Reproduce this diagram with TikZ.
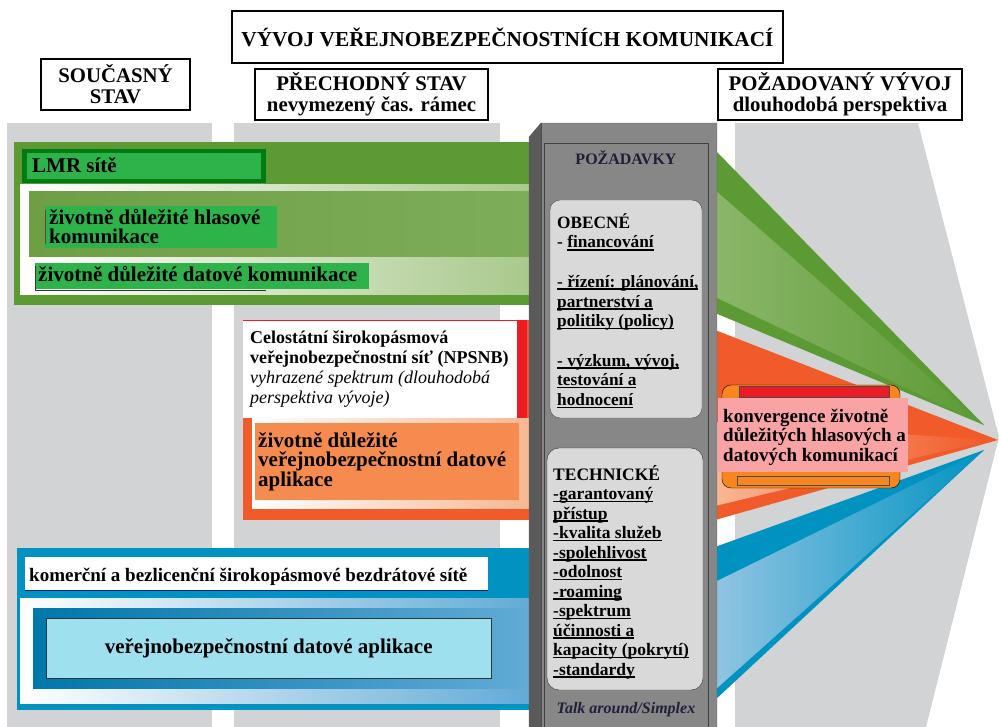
\documentclass[tikz,border=0pt]{standalone}
\usepackage{fontspec}
\setmainfont{Liberation Serif}
\usepackage{tikz}

\definecolor{bggray}{HTML}{D1D3D4}
\definecolor{lmrgreen}{HTML}{5C9A34}
\definecolor{lmrdark}{HTML}{007A12}
\definecolor{lmrlight}{HTML}{2EB34B}
\definecolor{lmrmid}{HTML}{6E9F45}
\definecolor{lmrmidr}{HTML}{7EAD5A}
\definecolor{lmrpale}{HTML}{A9C98C}
\definecolor{npsorange}{HTML}{F15A29}
\definecolor{npsred}{HTML}{ED1C24}
\definecolor{npsbox}{HTML}{F68B4F}
\definecolor{npspale}{HTML}{F8B792}
\definecolor{combblue}{HTML}{0093C2}
\definecolor{combdark}{HTML}{0077AA}
\definecolor{combpale}{HTML}{62ABD6}
\definecolor{combcyan}{HTML}{9FE0EE}
\definecolor{combline}{HTML}{1A237E}
\definecolor{pillfront}{HTML}{878787}
\definecolor{pillside}{HTML}{5A5A5A}
\definecolor{reqbox}{HTML}{D9D9D9}
\definecolor{reqtext}{HTML}{1F1F3A}
\definecolor{convpink}{HTML}{F9A3A5}
\definecolor{convorange}{HTML}{F7861F}

\newcommand{\fsz}[2]{\fontsize{#1}{#2}\selectfont\lineskiplimit=-50pt\bfseries}
\newcommand{\fstrut}{\rule{0pt}{16pt}}
\newsavebox{\ulbox}
\newcommand{\ulbar}[1]{\leavevmode\sbox{\ulbox}{#1}\rlap{\rule[-2.6pt]{\wd\ulbox}{1.5pt}}\usebox{\ulbox}}

\begin{document}
\begin{tikzpicture}[x=1pt,y=-1pt]

  \tikzstyle{lbl}=[anchor=base west,inner sep=0pt]
  \tikzstyle{txt}=[anchor=north west,inner sep=0pt,align=left]
  \tikzstyle{head}=[draw,line width=1.5pt,fill=white,align=center,inner sep=0pt,
                    minimum height=51pt,font=\fsz{20.8}{21}]

  \fill[white] (0,0) rectangle (999,727);
  \useasboundingbox (0,0) rectangle (999,727);

  % columns
  \fill[bggray] (7,123) rectangle (212,727);
  \fill[bggray] (234,123) rectangle (500,727);
  \fill[bggray] (735,123) -- (918,123) -- (999,437) -- (926,727) -- (735,727) -- cycle;

  % wedges right of the pillar
  \fill[npsorange] (715,330) -- (998,440) -- (715,520) -- cycle;
  \shade[left color=npspale,right color=npsorange] (715,422) -- (990,440) -- (715,506) -- cycle;
  \fill[lmrgreen] (715,150) -- (984,425) -- (715,313) -- cycle;
  \shade[left color=lmrpale!60!lmrgreen,right color=lmrgreen] (715,190) -- (984,425) -- (715,297) -- cycle;
  \fill[combblue] (715,547) -- (984,450) -- (715,700) -- cycle;
  \shade[left color=combpale!70!white,right color=combblue] (715,582) -- (984,450) -- (715,690) -- cycle;

  % LMR band
  \fill[lmrgreen] (14,142) rectangle (529,305);
  \fill[lmrdark] (22,149) rectangle (266,183);
  \fill[lmrlight] (27,153) rectangle (261,179);
  \shade[left color=white,right color=lmrpale] (20,185) rectangle (529,295);
  \shade[left color=lmrmid,right color=lmrmidr] (29,192) rectangle (529,257);
  \fill[lmrlight] (45,206) rectangle (277,248);
  \draw[black!70] (45,210) -- (45,244);
  \fill[lmrlight] (35,263) rectangle (369,289);
  \draw[black!80] (35,266) -- (35,290) -- (266,290);

  \node[lbl,font=\fsz{21}{20}] (lmr) at (32,173) {LMR sítě};
  \node[txt,font=\fsz{21}{19.5}] (voice) at (49,208) {\fstrut životně důležité hlasové\\komunikace};
  \node[lbl,font=\fsz{21}{20}] (data) at (38,282) {životně důležité datové komunikace};

  % NPSNB band
  \fill[npsorange] (243,320) rectangle (529,520);
  \shade[left color=white,right color=npspale] (252,418) rectangle (529,508);
  \fill[white] (243,320) rectangle (522,418);
  \fill[npsred] (517,320) rectangle (527,418);
  \draw[npsred] (243,320.5) -- (527,320.5);
  \fill[npsbox] (255,423) rectangle (519,500);

  \node[txt,font=\fsz{18}{20}] (npsnb) at (250,327) {\fstrut Celostátní širokopásmová\\
    veřejnobezpečnostní síť (NPSNB)\\
    {\mdseries\itshape vyhrazené spektrum (dlouhodobá}\\
    {\mdseries\itshape perspektiva vývoje)}};
  \node[txt,font=\fsz{21}{19.5}] (npsapp) at (258,431) {\fstrut životně důležité\\veřejnobezpečnostní datové\\aplikace};

  % commercial band
  \fill[combblue] (17,548) rectangle (529,710);
  \fill[white] (25,557) rectangle (488,590);
  \draw[combline,line width=1pt] (25,590) -- (488,590);
  \shade[left color=white,right color=combpale] (20,598) rectangle (529,703);
  \shade[left color=combdark,right color=combpale] (33,608) rectangle (529,688);

  \node[lbl,font=\fsz{19}{20}] (comm) at (29,581) {komerční a bezlicenční širokopásmové bezdrátové sítě};
  \node[draw=black!80,fill=combcyan,anchor=north west,minimum width=445pt,minimum height=60pt,
        font=\fsz{21}{20}] (commapp) at (46,618) {veřejnobezpečnostní datové aplikace};

  % pillar
  \fill[pillside] (529,137) -- (541,123) -- (541,727) -- (529,727) -- cycle;
  \fill[pillfront] (541,123) rectangle (717,727);
  \draw[black!60] (529,727) -- (529,137) -- (541,123) -- (717,123) -- (717,727);
  \draw[black!70] (541,123) -- (541,727);
  \draw[black!75] (544,727) -- (544,143) -- (708,143) -- (708,727);

  \node[anchor=base,inner sep=0pt,text=reqtext,font=\fsz{16}{18}] (req) at (626,165) {POŽADAVKY};

  \draw[black!70,fill=reqbox,rounded corners=10pt] (550,200) rectangle (702,418);
  \node[txt,font=\fsz{17.3}{19.7}] (general) at (557,212) {\fstrut OBECNÉ\\
    - \ulbar{financování}\\[19.7pt]
    \ulbar{- řízení: plánování,}\\
    \ulbar{partnerství a}\\
    \ulbar{politiky (policy)}\\[19.7pt]
    \ulbar{- výzkum, vývoj,}\\
    \ulbar{testování a}\\
    \ulbar{hodnocení}};

  \draw[black!80,fill=reqbox,rounded corners=12pt] (547,448) rectangle (703,690);
  \node[txt,font=\fsz{17.5}{19.5}] (technical) at (553,464) {\fstrut TECHNICKÉ\\
    \ulbar{-garantovaný}\\
    \ulbar{přístup}\\
    \ulbar{-kvalita služeb}\\
    \ulbar{-spolehlivost}\\
    \ulbar{-odolnost}\\
    \ulbar{-roaming}\\
    \ulbar{-spektrum}\\
    \ulbar{účinnosti a}\\
    \ulbar{kapacity (pokrytí)}\\
    \ulbar{-standardy}};

  \node[anchor=base,inner sep=0pt,text=reqtext,font=\fsz{16}{18}\itshape] (talk) at (626,713) {Talk around/Simplex};

  % convergence
  \draw[black,fill=convorange,rounded corners=9pt] (722,385) rectangle (900,488);
  \draw[black!70,fill=npsred] (739,386) rectangle (889,397);
  \draw[black!70,fill=convorange] (737,476) rectangle (889,485);
  \fill[convpink] (718,398) rectangle (908,472);
  \node[txt,font=\fsz{19}{19.7}] (conv) at (723,406) {\fstrut konvergence životně\\důležitých hlasových a\\datových komunikací};

  % headings
  \node[head,minimum width=551pt,minimum height=52pt,font=\fsz{21.3}{22}] (title) at (507.5,37) {VÝVOJ VEŘEJNOBEZPEČNOSTNÍCH KOMUNIKACÍ};
  \node[head,minimum width=149pt] (now) at (115.5,84.5) {SOUČASNÝ\\STAV};
  \node[head,minimum width=233pt] (trans) at (371.5,94.5) {PŘECHODNÝ STAV\\nevymezený čas. rámec};
  \node[head,minimum width=244pt] (target) at (840,94.5) {POŽADOVANÝ VÝVOJ\\dlouhodobá perspektiva};

\end{tikzpicture}
\end{document}
